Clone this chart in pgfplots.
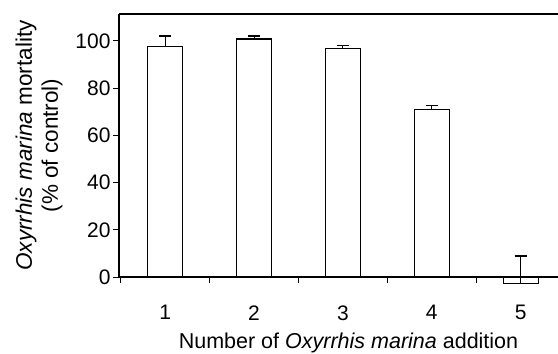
\documentclass[border=0pt]{standalone}
\usepackage{pgfplots}
\pgfplotsset{compat=1.18}
\usepackage{fontspec}
\setmainfont{Liberation Sans}
\pgfplotstableread{
x y err
1 97.7 4.4
2 100.8 1.3
3 96.7 1.3
4 70.8 1.8
5 -2.7 11.6
}\mydata
\begin{document}
\begin{tikzpicture}
\begin{axis}[
  scale only axis, width=439pt, height=263pt,
  xmin=0.48, xmax=5.42, ymin=0, ymax=111.4,
  axis lines*=left,
  clip=false,
  axis line style={line width=1.1pt},
  every tick/.style={black, line width=1pt},
  tick align=outside,
  major tick length=6pt, minor tick length=6pt,
  xtick={1,2,3,4,5},
  major x tick style={draw=none},
  minor xtick={0.5,1.5,2.5,3.5,4.5},
  ytick={0,20,40,60,80,100},
  tick label style={font=\fontsize{21}{24}\selectfont},
  /pgf/number format/assume math mode=true,
  xticklabel style={yshift=-19pt},
  yticklabel style={xshift=1pt},
  xlabel={\fontsize{21.5}{25}\selectfont Number of \textit{Oxyrrhis marina} addition},
  xlabel style={yshift=-6pt, xshift=10pt},
  ylabel={\textit{Oxyrrhis marina} mortality\\(\% of control)},
  ylabel style={align=center, font=\fontsize{22.5}{26}\selectfont, yshift=6pt},
]
\addplot[ybar, bar width=35pt, fill=white, draw=black, line width=1.1pt,
  error bars/.cd, y dir=plus, y explicit,
  error bar style={line width=1.1pt},
  error mark options={rotate=90, mark size=6pt, line width=1.1pt}]
  table[x=x, y=y, y error=err]{\mydata};
\draw[line width=1.1pt] (rel axis cs:0,1) -- (rel axis cs:1,1);
\coordinate (sw) at (rel axis cs:0,0);
\coordinate (ne) at (rel axis cs:1,1);
\end{axis}
\pgfresetboundingbox
\path (sw) ++(-119pt,-76pt) coordinate (a);
\path (ne) ++(0pt,14pt) coordinate (b);
\useasboundingbox (a) rectangle (b);
\end{tikzpicture}
\end{document}
